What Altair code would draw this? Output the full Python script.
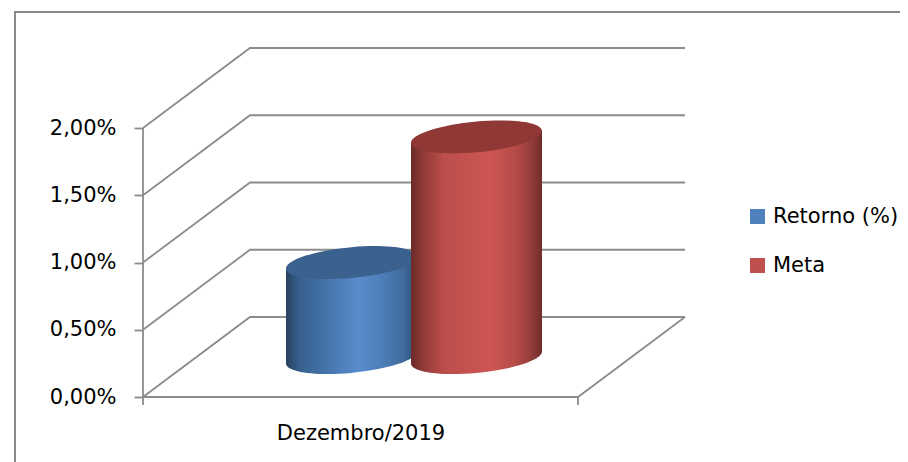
import altair as alt
import pandas as pd

# --- chart values ---
CATEGORY = ["Dezembro/2019"]
SERIES = ["Retorno (%)", "Meta"]
VALUES = [0.706, 1.64]
TICKS = [0.0, 0.5, 1.0, 1.5, 2.0]
COLORS = ["#4f81bd", "#c0504d"]
TOP_COLORS = ["#3b618e", "#8f3836"]
STOPS = [
    [(0, "#27425f"), (0.1, "#36608c"), (0.25, "#416fa3"), (0.55, "#5a8ccc"), (0.72, "#4f7fbb"), (0.9, "#3f6a9b"), (1, "#2c4c73")],
    [(0, "#6b2a28"), (0.08, "#8c3836"), (0.25, "#bb4e4b"), (0.6, "#cd5653"), (0.8, "#b54b48"), (0.92, "#923c3a"), (1, "#6f2c2a")],
]

# --- layout (1 x unit = the category band, y unit = percentage points) ---
W, H = 892, 454
UNIT_PX, PCT_PX = 435.0, 134.5
ORIGIN_X, ORIGIN_Y = 135.0, 389.0   # where band start / 0% sit in the plot area
DEPTH = 107 / UNIT_PX
RISE = 80 / PCT_PX
CYL_W = 131 / UNIT_PX
CYL_GAP = 125 / UNIT_PX
TILT = 5.5 / PCT_PX
BASE = RISE / 2 - 0.5 / PCT_PX
GRAY = "#8c8c8c"
FONT = "DejaVu Sans"
FS = 21

xdom = [-ORIGIN_X / UNIT_PX, (W - ORIGIN_X) / UNIT_PX]
ydom = [-(H - ORIGIN_Y) / PCT_PX, ORIGIN_Y / PCT_PX]
xs = alt.Scale(domain=xdom, nice=False, zero=False)
ys = alt.Scale(domain=ydom, nice=False, zero=False)
X_AXIS = alt.Axis(
    values=[0.5], labelExpr=f"'{CATEGORY[0]}'", title=None, domain=False, ticks=False,
    grid=False, labelFont=FONT, labelFontSize=FS, labelColor="#000000",
    labelPadding=25, offset=-(H - ORIGIN_Y), labelFlush=False, labelOverlap=False)
Y_AXIS = alt.Axis(
    values=TICKS, labelExpr="replace(format(datum.value, '.2f'), '.', ',') + '%'",
    title=None, domain=False, grid=False, tickColor=GRAY, tickWidth=1.8, tickSize=9,
    labelFont=FONT, labelFontSize=FS, labelColor="#000000", labelPadding=18,
    offset=-ORIGIN_X, labelOverlap=False, labelFlush=False)
X = alt.X("x:Q", scale=xs, axis=X_AXIS)
Y = alt.Y("y:Q", scale=ys, axis=Y_AXIS)


def ellipse_path(b=0.235, s=0.09):
    k = 0.5523
    pts = [(-1, 0), (-1, -k*b), (-k, -b), (0, -b), (k, -b), (1, -k*b), (1, 0),
           (1, k*b), (k, b), (0, b), (-k, b), (-1, k*b), (-1, 0)]
    p = [(x, y - s * x) for x, y in pts]
    f = lambda q: f"{q[0]:.4f},{q[1]:.4f}"
    return ("M" + f(p[0]) + "".join(
        " C" + f(p[i]) + " " + f(p[i+1]) + " " + f(p[i+2]) for i in range(1, 13, 3)) + " Z")


ELLIPSE = ellipse_path()
ELL_SIZE = (CYL_W * UNIT_PX) ** 2


def grad(stops):
    return alt.Gradient(gradient="linear", x1=0, x2=1, y1=0, y2=0,
                        stops=[alt.GradientStop(offset=o, color=c) for o, c in stops])


# --- 3D frame ---
frame_rows = []
for i, t in enumerate(TICKS):
    pts = [(0, t), (DEPTH, t + RISE), (1 + DEPTH, t + RISE)]
    for j, (x, y) in enumerate(pts):
        frame_rows.append({"g": f"grid{i}", "o": j, "x": x, "y": y})
for j, (x, y) in enumerate([(0, 0), (1, 0), (1 + DEPTH, RISE)]):
    frame_rows.append({"g": "floor", "o": j, "x": x, "y": y})
for j, (x, y) in enumerate([(0, TICKS[0]), (0, TICKS[-1])]):
    frame_rows.append({"g": "wall", "o": j, "x": x, "y": y})
for k, u in enumerate([0, 1]):
    for j, (x, y) in enumerate([(u, 0), (u, -8 / PCT_PX)]):
        frame_rows.append({"g": f"cat{k}", "o": j, "x": x, "y": y})

frame = alt.Chart(pd.DataFrame(frame_rows)).mark_line(color=GRAY, strokeWidth=1.8).encode(
    x=X, y=Y, detail="g:N", order="o:Q",
)

# --- outer chart border (top and left edges) ---
border = alt.Chart(pd.DataFrame({
    "g": ["b", "b", "b"], "o": [0, 1, 2],
    "x": [xdom[1], -128 / UNIT_PX, -128 / UNIT_PX],
    "y": [385 / PCT_PX, 385 / PCT_PX, ydom[0]],
})).mark_line(color="#8a8a8a", strokeWidth=2).encode(x=X, y=Y, detail="g:N", order="o:Q")

# --- cylinders ---
cluster = 0.5 + DEPTH / 2
cx = [cluster - CYL_GAP / 2, cluster + CYL_GAP / 2]

legend_df = pd.DataFrame({"series": SERIES, "x": cx, "y": [v + BASE for v in VALUES]})
legend_layer = alt.Chart(legend_df).mark_point(filled=True, shape="square", size=4, opacity=1).encode(
    x=X, y=Y,
    color=alt.Color("series:N", sort=SERIES, scale=alt.Scale(domain=SERIES, range=COLORS),
                    legend=alt.Legend(orient="none", legendX=739, legendY=198, title=None,
                                      symbolType="square", symbolSize=225, symbolStrokeWidth=0,
                                      labelFont=FONT, labelFontSize=FS, labelColor="#000000",
                                      rowPadding=27, labelOffset=5, symbolOpacity=1)),
)

layers = [border, frame, legend_layer]
for i, s in enumerate(SERIES):
    v, c = VALUES[i], cx[i]
    g = grad(STOPS[i])
    body = alt.Chart(pd.DataFrame({
        "x": [c - CYL_W / 2, c + CYL_W / 2],
        "y": [v + BASE - TILT, v + BASE + TILT],
        "y2": [BASE - TILT, BASE + TILT],
    })).mark_area(fill=g, opacity=1).encode(x=X, y=Y, y2="y2:Q")
    bottom = alt.Chart(pd.DataFrame({"x": [c], "y": [BASE]})).mark_point(
        filled=True, shape=ELLIPSE, size=ELL_SIZE, fill=g, opacity=1, strokeWidth=0).encode(x=X, y=Y)
    top = alt.Chart(pd.DataFrame({"x": [c], "y": [v + BASE]})).mark_point(
        filled=True, shape=ELLIPSE, size=ELL_SIZE, fill=TOP_COLORS[i], opacity=1, strokeWidth=0).encode(x=X, y=Y)
    layers += [bottom, body, top]

chart = alt.layer(*layers).properties(width=W, height=H, padding=0, background="#ffffff",
                                      autosize=alt.AutoSizeParams(type="none")).configure_view(stroke=None)
chart.save("out.html", embed_options={"renderer": "svg", "actions": False})
